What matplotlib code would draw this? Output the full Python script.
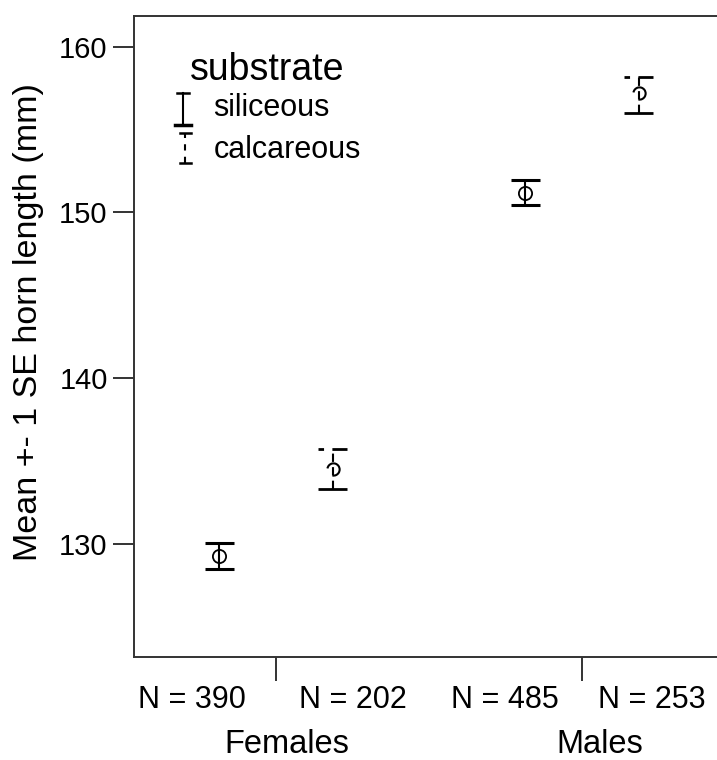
import matplotlib
matplotlib.use("Agg")
import matplotlib.pyplot as plt
from matplotlib.path import Path

plt.rcParams['font.family'] = ['Liberation Sans', 'DejaVu Sans']

# ---- data ----
groups = ["Females", "Males"]
substrates = ["siliceous", "calcareous"]
sil_mean = [129.25, 151.2]
sil_upper = [130.05, 151.95]
sil_lower = [128.45, 150.45]
cal_mean = [134.5, 157.2]
cal_upper = [135.7, 158.2]
cal_lower = [133.3, 156.0]
n_labels = [["N = 390", "N = 202"], ["N = 485", "N = 253"]]
yticks = [130, 140, 150, 160]

# ---- style ----
OFF = 0.185      # offset of each substrate from group center
NOFFS = [[-0.275, 0.252], [-0.252, 0.229]]   # offsets of N labels
CAP = 0.047      # half cap width (data units)

fig = plt.figure(figsize=(7.17, 7.6), dpi=100)
ax = fig.add_axes([0.187, 0.1355, 0.813, 0.8435])
ax.set_xlim(0.536, 2.441)
ax.set_ylim(123.15, 161.87)

xs = [1, 2]
# siliceous: solid error bars with open circles
for i, x in enumerate(xs):
    xx = x - OFF
    ax.vlines(xx, sil_lower[i], sil_upper[i], color='black', lw=1.5)
    ax.hlines([sil_lower[i], sil_upper[i]], xx - CAP, xx + CAP, color='black', lw=2.2)
    ax.plot([xx], [sil_mean[i]], marker='o', ms=9.5, mfc='none', mec='black', mew=1.3)

# calcareous: dashed error bars with broken circle
arc = Path.arc(-100, 170)
for i, x in enumerate(xs):
    xx = x + OFF
    ax.vlines(xx, cal_lower[i], cal_upper[i], color='black', lw=1.5,
              linestyles=(0, (4, 2.5)))
    ax.hlines(cal_upper[i], xx - CAP, xx + CAP, color='black', lw=2.0,
              linestyles=(0, (2, 3, 9, 1)))
    ax.hlines(cal_lower[i], xx - CAP, xx + CAP, color='black', lw=2.0,
              linestyles=(0, (12, 1.5)))
    ax.plot([xx], [cal_mean[i]], marker=arc, ms=9, mfc='none', mec='black', mew=1.5,
            ls='none')

# axes styling
ax.spines['right'].set_visible(False)
for s in ['left', 'top', 'bottom']:
    ax.spines[s].set_linewidth(1.4)
    ax.spines[s].set_color('#333333')

ax.set_yticks(yticks)
ax.set_yticklabels([str(t) for t in yticks], fontsize=21)
ax.tick_params(axis='y', direction='out', length=15, width=1.4, pad=4, colors='#333333',
               labelcolor='black')
ax.set_xticks(xs)
ax.set_xticklabels(['', ''])
ax.tick_params(axis='x', direction='out', length=17, width=1.4, colors='#333333')

ax.set_ylabel("Mean +- 1 SE horn length (mm)", fontsize=24.5)
ax.yaxis.set_label_coords(-0.155, 0.523)

trans = ax.get_xaxis_transform()
for i, x in enumerate(xs):
    for j in range(2):
        ax.text(x + NOFFS[i][j], -0.067, n_labels[i][j], transform=trans, ha='center',
                va='center', fontsize=22)
ax.text(1.035, -0.137, groups[0], transform=trans, ha='center', va='center', fontsize=23.5)
ax.text(2.058, -0.137, groups[1], transform=trans, ha='center', va='center', fontsize=23.5)

# legend (manual)
ta = ax.transAxes
ax.text(0.096, 0.916, "substrate", transform=ta, ha='left', va='center', fontsize=27)
# siliceous symbol
lx = 0.084
ax.plot([lx, lx], [0.830, 0.880], transform=ta, color='black', lw=1.5)
ax.plot([lx - 0.011, lx + 0.011], [0.880, 0.880], transform=ta, color='black', lw=1.8)
ax.plot([lx - 0.013, lx + 0.013], [0.830, 0.830], transform=ta, color='black', lw=2.5)
ax.text(0.136, 0.856, substrates[0], transform=ta, ha='left', va='center', fontsize=22)
# calcareous symbol
lx2 = 0.088
ax.plot([lx2, lx2], [0.771, 0.817], transform=ta, color='black', lw=1.5,
        ls=(0, (3, 3)))
ax.plot([lx2 - 0.009, lx2 + 0.009], [0.817, 0.817], transform=ta, color='black', lw=1.8)
ax.plot([lx2 - 0.009, lx2 + 0.009], [0.771, 0.771], transform=ta, color='black', lw=1.8)
ax.text(0.136, 0.791, substrates[1], transform=ta, ha='left', va='center', fontsize=22)

fig.savefig("out.png", dpi=100, facecolor='white')
